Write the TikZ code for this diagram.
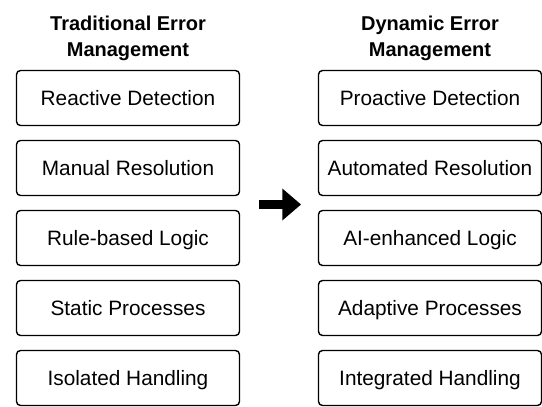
\documentclass[tikz,border=0pt]{standalone}
\usepackage{fontspec}
\setmainfont{Liberation Sans}
\begin{document}
\begin{tikzpicture}[x=1pt,y=-1pt,
  itembox/.style={draw=black, line width=1.4pt, rounded corners=4pt, minimum width=223pt, minimum height=55pt, inner sep=0pt, text height=15pt, text depth=0pt, font=\fontsize{20.8}{24}\selectfont},
  coltitle/.style={align=center, font=\bfseries\fontsize{20}{26}\selectfont}]
\useasboundingbox (0,0) rectangle (542,407);
\node[coltitle] (lt) at (128,38) {Traditional Error\\Management};
\node[coltitle] (rt) at (430,38) {Dynamic Error\\Management};
\node[itembox] (l1) at (128,98) {Reactive Detection};
\node[itembox] (l2) at (128,168) {Manual Resolution};
\node[itembox] (l3) at (128,238) {Rule-based Logic};
\node[itembox] (l4) at (128,308) {Static Processes};
\node[itembox] (l5) at (128,378) {Isolated Handling};
\node[itembox] (r1) at (430,98) {Proactive Detection};
\node[itembox] (r2) at (430,168) {Automated Resolution};
\node[itembox] (r3) at (430,238) {AI-enhanced Logic};
\node[itembox] (r4) at (430,308) {Adaptive Processes};
\node[itembox] (r5) at (430,378) {Integrated Handling};
\coordinate (as) at (259,204.5);
\fill[black] (as) ++(0,-4.3) -- ++(23.3,0) -- ++(0,-11.7) -- (301,204.5) -- (282.3,220.5) -- ++(0,-11.7) -- (259,208.8) -- cycle;
\end{tikzpicture}
\end{document}
